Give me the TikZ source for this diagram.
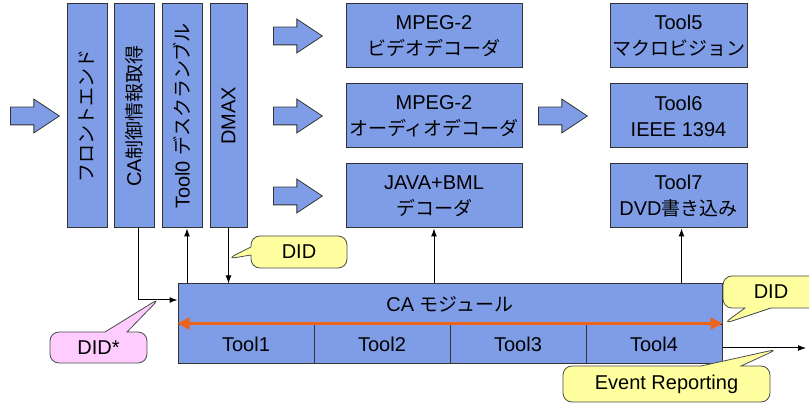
\documentclass[tikz,border=0pt]{standalone}
\usepackage{fontspec}
\setmainfont{Liberation Sans}
\newfontfamily\jp{Noto Sans CJK JP}[Scale=0.95]
\usepackage{tikz}
\usetikzlibrary{positioning, shapes, shapes.arrows, shapes.callouts, arrows, arrows.meta}
\definecolor{boxblue}{RGB}{127,157,230}
\definecolor{noteyellow}{RGB}{255,255,160}
\definecolor{notepink}{RGB}{255,204,255}
\definecolor{busorange}{RGB}{235,100,25}
\tikzset{>={Latex[length=8pt,width=6pt]}}
\tikzset{
    block/.style = {rectangle, draw=black!80, fill=boxblue, line width=1pt,
                        inner sep=0pt, align=center},
    flow/.style = {single arrow, draw=black!80, fill=boxblue, line width=0.8pt,
                        minimum height=49pt, inner xsep=0pt, inner ysep=8.5pt,
                        single arrow head extend=8pt, single arrow tip angle=67, anchor=tail},
    note/.style = {rectangle callout, draw=black!70, line width=0.8pt,
                        rounded corners=9pt, inner sep=0pt}
}

\begin{document}
\begin{tikzpicture}[x=1pt, y=-1pt]
			\tikzstyle{every node}=[font=\fontsize{20}{26}\selectfont]
			\useasboundingbox (0,0) rectangle (809,403);
			% input and front stages
			\node (in) [flow] at (10,116) {};
			\node (fe) [block, minimum width=40pt, minimum height=224pt] at (87,116) {\rotatebox{90}{\jp フロントエンド}};
			\node (ca) [block, minimum width=40pt, minimum height=224pt] at (134,116) {\rotatebox{90}{CA{\jp 制御情報取得}}};
			\node (tool0) [block, minimum width=40pt, minimum height=224pt] at (182,116) {\rotatebox{90}{Tool0 {\jp デスクランブル}}};
			\node (dmax) [block, minimum width=37pt, minimum height=224pt] at (228.5,116) {\rotatebox{90}{DMAX}};
			% decoders
			\node (fv) [flow] at (273,36) {};
			\node (fa) [flow] at (273,116) {};
			\node (fj) [flow] at (273,196) {};
			\node (mpv) [block, minimum width=176pt, minimum height=64pt] at (434,36) {MPEG-2\\{\jp ビデオデコーダ}};
			\node (mpa) [block, minimum width=176pt, minimum height=64pt] at (434,116) {MPEG-2\\{\jp オーディオデコーダ}};
			\node (java) [block, minimum width=176pt, minimum height=64pt] at (434,196) {JAVA+BML\\{\jp デコーダ}};
			% output tools
			\node (fo) [flow] at (538,116) {};
			\node (t5) [block, minimum width=137pt, minimum height=64pt] at (678.5,36) {Tool5\\{\jp マクロビジョン}};
			\node (t6) [block, minimum width=137pt, minimum height=64pt] at (678.5,116) {Tool6\\IEEE 1394};
			\node (t7) [block, minimum width=137pt, minimum height=64pt] at (678.5,196) {Tool7\\DVD{\jp 書き込み}};
			% CA module
			\node (camod) [block, minimum width=544pt, minimum height=41pt] at (450,304.5) {CA {\jp モジュール}};
			\node (tool1) [block, minimum width=136pt, minimum height=39pt] at (246,344.5) {Tool1};
			\node (tool2) [block, minimum width=136pt, minimum height=39pt] at (382,344.5) {Tool2};
			\node (tool3) [block, minimum width=136pt, minimum height=39pt] at (518,344.5) {Tool3};
			\node (tool4) [block, minimum width=136pt, minimum height=39pt] at (654,344.5) {Tool4};
			\draw [{Triangle[length=12pt,width=12pt]}-{Triangle[length=12pt,width=12pt]}, busorange, line width=2.5pt]
				([yshift=2pt]camod.south west) -- ([yshift=2pt]camod.south east);
			% connectors
			\coordinate (cabend) at (138,300);
			\coordinate (evt) at (806,348);
			\draw [->, line width=1pt] (ca.south -| cabend) |- (camod.west |- cabend);
			\draw [<-, line width=1pt] ([xshift=5pt]tool0.south) -- ([xshift=5pt]tool0.south |- camod.north);
			\draw [->, line width=1pt] (dmax.south) -- (dmax.south |- camod.north);
			\draw [<-, line width=1pt] (java.south) -- (java.south |- camod.north);
			\draw [<-, line width=1pt] ([xshift=3pt]t7.south) -- ([xshift=3pt]t7.south |- camod.north);
			\draw [->, line width=1pt] (tool4.east |- evt) -- (evt);
			% notes
			\coordinate (didtap) at (227,259);
			\coordinate (busend) at (723,324);
			\coordinate (evttap) at (778,349);
			\coordinate (cacross) at (160,298);
			\node (did1) [note, fill=noteyellow, minimum width=96pt, minimum height=32pt,
				callout absolute pointer={(didtap)}, callout pointer width=8pt] at (299,252) {DID};
			\node (did2) [note, fill=noteyellow, minimum width=96pt, minimum height=32pt,
				callout absolute pointer={(busend)}, callout pointer width=26pt] at (771,292) {DID};
			\node (evrep) [note, fill=noteyellow, minimum width=207pt, minimum height=36pt,
				callout absolute pointer={(evttap)}, callout pointer width=40pt] at (666.5,384) {Event Reporting};
			\node (didstar) [note, fill=notepink, minimum width=97pt, minimum height=31pt,
				callout absolute pointer={(cacross)}, callout pointer width=22pt] at (98.5,347.5) {DID*};
		\end{tikzpicture}
\end{document}
